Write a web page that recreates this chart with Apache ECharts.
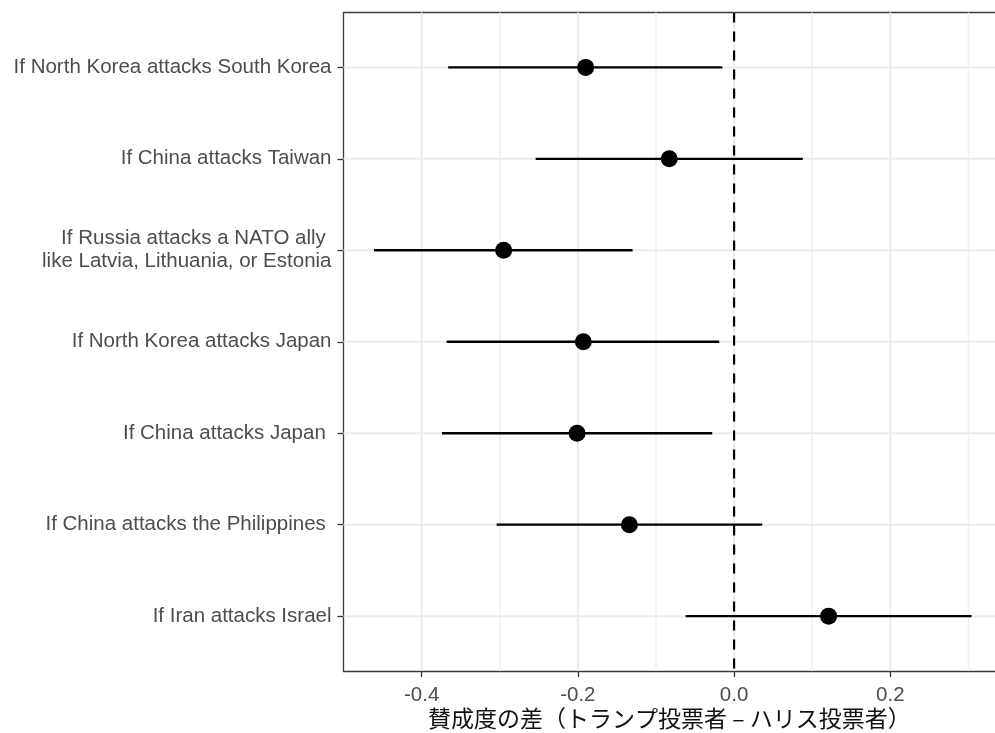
<!DOCTYPE html>
<html>
<head>
<meta charset="utf-8">
<script src="https://cdn.jsdelivr.net/npm/echarts@6/dist/echarts.min.js"></script>
<style>
  html, body { margin: 0; padding: 0; background: #fff; }
  #chart { width: 995px; height: 733px; }
</style>
</head>
<body>
<div id="chart"></div>
<script>
// Scenarios, listed top to bottom
const categories = [
  'If North Korea attacks South Korea',
  'If China attacks Taiwan',
  'If Russia attacks a NATO ally \nlike Latvia, Lithuania, or Estonia',
  'If North Korea attacks Japan',
  'If China attacks Japan ',
  'If China attacks the Philippines ',
  'If Iran attacks Israel'
];
// Difference in support (Trump voters minus Harris voters) with interval bounds
const estimates   = [-0.190, -0.083, -0.295, -0.193, -0.201, -0.134, 0.121];
const lowerBounds = [-0.366, -0.254, -0.461, -0.368, -0.374, -0.304, -0.062];
const upperBounds = [-0.015,  0.088, -0.130, -0.019, -0.028,  0.036,  0.304];

const xTickValues  = [-0.4, -0.2, 0.0, 0.2];
const xMinorValues = [-0.3, -0.1, 0.1, 0.3];
const xTitle = '賛成度の差（トランプ投票者 – ハリス投票者）';

const rowValues = categories.map((c, i) => i + 1);
const textFont = "'Liberation Sans', Arial, sans-serif";
const frameLine = { show: true, onZero: false, lineStyle: { color: '#3a3a3a', width: 1.3 } };

const chart = echarts.init(document.getElementById('chart'), null, { renderer: 'canvas' });

const option = {
  animation: false,
  backgroundColor: '#ffffff',
  grid: { left: 343.5, right: -2, top: 12.5, bottom: 62, show: false },
  xAxis: [{
    type: 'value', min: -0.5, max: 0.334, position: 'bottom',
    axisLine: frameLine,
    splitLine: { show: false },
    axisTick: { show: true, length: 6, customValues: xTickValues,
      lineStyle: { color: '#333', width: 1.3 } },
    axisLabel: { customValues: xTickValues, margin: 14, color: '#4d4d4d',
      fontSize: 20.5, fontFamily: textFont,
      formatter: v => Number(v).toFixed(1) }
  }, {
    // top edge of the panel frame
    type: 'value', min: -0.5, max: 0.334, position: 'top',
    axisLine: frameLine,
    axisTick: { show: false }, axisLabel: { show: false }, splitLine: { show: false }
  }],
  yAxis: {
    type: 'value', inverse: true, min: 0.4, max: 7.6, position: 'left',
    axisLine: frameLine,
    splitLine: { show: false },
    axisTick: { show: true, length: 6, customValues: rowValues,
      lineStyle: { color: '#333', width: 1.3 } },
    axisLabel: { customValues: rowValues, margin: 12, color: '#4d4d4d',
      fontSize: 20.5, fontFamily: textFont, lineHeight: 23, align: 'right',
      formatter: v => categories[Math.round(v) - 1] }
  },
  graphic: [{
    type: 'text', left: 428, top: 707, z: 10,
    style: { text: xTitle, fill: '#111', fontSize: 23,
      fontFamily: "'Noto Sans CJK JP', sans-serif" }
  }],
  series: [
    {
      // vertical grid lines (major and minor)
      type: 'custom', z: 1, silent: true,
      data: xTickValues.map(v => [v, 0]).concat(xMinorValues.map(v => [v, 1])),
      encode: { x: 0 },
      renderItem: (params, api) => {
        const cs = params.coordSys;
        const x = api.coord([api.value(0), 1])[0];
        const minor = api.value(1) === 1;
        return { type: 'line',
          shape: { x1: x, y1: cs.y, x2: x, y2: cs.y + cs.height },
          style: { stroke: minor ? '#f0f0f0' : '#ebebeb', lineWidth: minor ? 1.5 : 2 } };
      }
    },
    {
      // horizontal grid lines at each scenario
      type: 'custom', z: 1, silent: true,
      data: rowValues.map(r => [0, r]),
      encode: { x: 0, y: 1 },
      renderItem: (params, api) => {
        const cs = params.coordSys;
        const y = api.coord([0, api.value(1)])[1];
        return { type: 'line',
          shape: { x1: cs.x, y1: y, x2: cs.x + cs.width, y2: y },
          style: { stroke: '#ebebeb', lineWidth: 2 } };
      }
    },
    {
      // interval bars
      type: 'custom', z: 2, silent: true,
      data: categories.map((c, i) => [lowerBounds[i], upperBounds[i], i + 1]),
      encode: { x: [0, 1], y: 2 },
      renderItem: (params, api) => {
        const p1 = api.coord([api.value(0), api.value(2)]);
        const p2 = api.coord([api.value(1), api.value(2)]);
        return { type: 'line',
          shape: { x1: p1[0], y1: p1[1], x2: p2[0], y2: p2[1] },
          style: { stroke: '#000', lineWidth: 2.4 } };
      }
    },
    {
      // reference line at zero
      type: 'custom', z: 3, silent: true,
      data: [[0]],
      encode: { x: 0 },
      renderItem: (params, api) => {
        const cs = params.coordSys;
        const x = api.coord([api.value(0), 1])[0];
        return { type: 'line',
          shape: { x1: x, y1: cs.y, x2: x, y2: cs.y + cs.height },
          style: { stroke: '#000', lineWidth: 2.2, lineDash: [10, 9] } };
      }
    },
    {
      type: 'scatter', z: 4, silent: true,
      symbol: 'circle', symbolSize: 17,
      itemStyle: { color: '#000', opacity: 1 },
      data: estimates.map((v, i) => [v, i + 1])
    }
  ]
};

chart.setOption(option);
</script>
</body>
</html>
